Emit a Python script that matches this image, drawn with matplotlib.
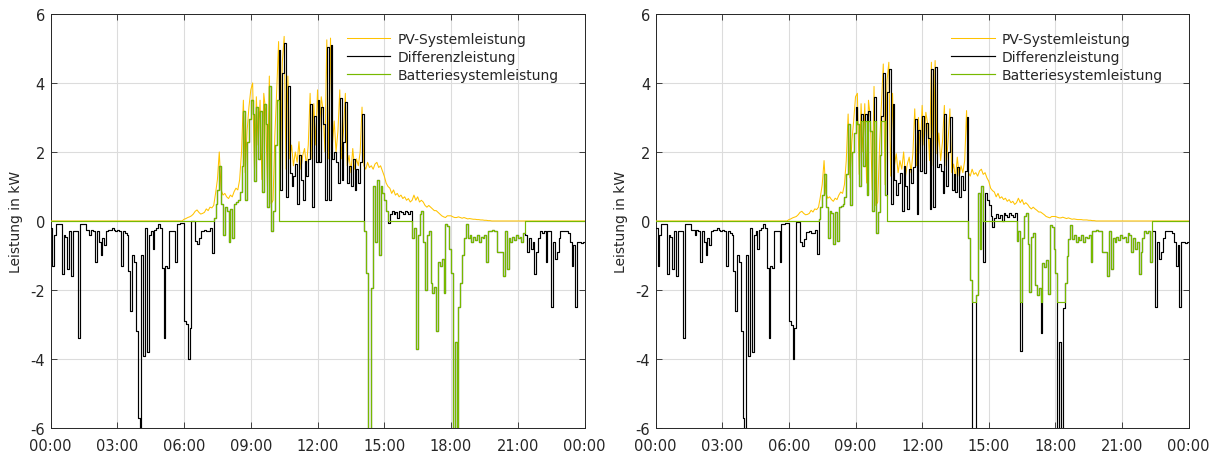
import numpy as np
import matplotlib
matplotlib.use("Agg")
import matplotlib.pyplot as plt

# ---------------- data (5-minute samples, kW) ----------------
sample_minutes = 5

# household load (positive consumption), 00:00 ... 24:00
load_00_06 = [
    0.20, 1.30, 0.40, 0.10, 0.10, 0.10, 1.55, 0.40, 0.45, 1.40, 0.30, 1.60,
    0.30, 0.30, 0.30, 3.40, 0.10, 0.10, 0.10, 0.25, 0.25, 0.40, 0.25, 0.30,
    1.20, 0.30, 0.60, 1.00, 0.50, 0.70, 0.30, 0.25, 0.25, 0.20, 0.25, 0.30,
    0.25, 0.30, 1.30, 0.30, 0.35, 0.40, 1.45, 2.60, 1.00, 1.20, 3.20, 5.70,
    6.50, 1.00, 3.90, 0.20, 3.80, 0.40, 0.30, 0.80, 0.25, 0.20, 0.10, 0.20,
    1.35, 3.40, 1.30, 1.35, 0.30, 0.30, 0.30, 1.20, 0.10, 0.10, 0.05, 0.05,
]
load_06_12 = [
    2.95, 3.07, 4.10, 3.22, 0.15, 0.20, 0.85, 1.00, 0.75, 0.50, 0.52, 0.50,
    0.65, 0.60, 0.60, 1.30, 0.35, 0.30, 0.30, 0.40, 0.40, 1.15, 0.40, 0.40,
    1.25, 0.40, 1.20, 0.35, 0.40, 0.30, 0.35, 0.40, 0.30, 0.80, 0.30, 0.35,
    0.30, 0.90, 0.35, 0.30, 0.40, 0.30, 0.35, 0.30, 0.40, 0.60, 0.30, 0.80,
    0.30, 0.30, 0.30, 0.25, 0.30, 0.30, 0.20, 0.80, 0.30, 0.40, 1.20, 0.30,
    0.35, 1.20, 0.40, 0.30, 1.30, 0.35, 0.30, 0.40, 0.30, 1.40, 0.35, 0.50,
]
load_12_18 = [
    0.30, 0.80, 0.30, 0.40, 1.40, 0.20, 1.20, 0.20, 0.40, 0.90, 0.30, 1.50,
    0.25, 0.60, 0.30, 0.25, 0.50, 0.30, 0.40, 0.30, 0.60, 0.30, 0.50, 0.30,
    0.20, 1.90, 3.00, 9.20, 8.55, 3.55, 0.50, 2.25, 0.50, 2.55, 0.60, 0.65,
    0.70, 0.80, 1.05, 0.75, 0.50, 0.70, 0.50, 0.70, 0.40, 0.50, 0.45, 0.40,
    0.35, 0.45, 0.25, 1.10, 0.95, 4.30, 1.10, 0.35, 0.30, 1.15, 2.45, 0.80,
    0.75, 2.20, 2.45, 2.20, 3.50, 1.45, 1.50, 1.25, 2.22, 0.20, 0.30, 0.95,
]
load_18_24 = [
    1.65, 6.62, 3.60, 6.60, 2.62, 1.90, 1.08, 0.60, 0.18, 0.56, 0.47, 0.66,
    0.50, 0.60, 0.44, 0.64, 0.48, 0.53, 0.42, 1.22, 0.31, 0.31, 0.25, 0.30,
    0.30, 0.90, 0.90, 0.90, 1.60, 0.30, 1.40, 0.50, 0.60, 0.45, 0.55, 0.40,
    0.50, 0.45, 0.60, 0.35, 0.40, 0.90, 0.50, 0.80, 0.60, 1.55, 0.90, 0.50,
    0.30, 0.35, 0.30, 1.20, 0.30, 0.30, 2.50, 0.60, 1.10, 0.90, 0.50, 0.30,
    0.30, 0.30, 0.30, 0.35, 0.60, 1.30, 0.70, 2.50, 0.60, 0.60, 0.65, 0.60,
    0.60,
]

# PV power, 06:00 ... 19:55 (zero outside)
pv_first_sample = "06:00"
pv_left_06_13 = [
    0.05, 0.07, 0.10, 0.12, 0.15, 0.20, 0.28, 0.32, 0.25, 0.20, 0.22, 0.25,
    0.35, 0.30, 0.40, 0.38, 0.45, 0.80, 1.20, 2.00, 0.90, 0.75, 0.80, 0.70,
    0.65, 0.75, 0.70, 0.85, 0.95, 0.90, 1.20, 2.00, 3.50, 1.40, 2.60, 3.30,
    3.80, 4.00, 1.50, 3.60, 2.20, 3.50, 1.20, 3.70, 3.20, 1.00, 4.20, 0.50,
    0.60, 2.50, 3.80, 5.20, 1.20, 4.60, 5.35, 1.50, 4.20, 1.80, 2.20, 1.60,
    2.00, 1.70, 2.30, 1.50, 1.90, 2.10, 1.60, 2.20, 3.70, 1.80, 3.40, 2.20,
    3.80, 2.50, 3.60, 3.20, 2.00, 5.25, 1.80, 5.30, 2.20, 2.90, 2.00, 2.60,
]
pv_left_13_20 = [
    3.80, 1.80, 2.60, 3.70, 1.60, 1.90, 1.40, 2.10, 1.50, 1.80, 1.60, 2.00,
    3.30, 1.60, 1.50, 1.70, 1.55, 1.60, 1.50, 1.65, 1.70, 1.55, 1.60, 1.45,
    1.30, 1.10, 1.00, 0.95, 0.80, 0.90, 0.75, 0.80, 0.70, 0.75, 0.65, 0.70,
    0.60, 0.65, 0.55, 0.60, 0.75, 0.60, 0.70, 0.55, 0.60, 0.55, 0.45, 0.40,
    0.45, 0.40, 0.35, 0.30, 0.30, 0.25, 0.20, 0.15, 0.12, 0.10, 0.15, 0.15,
    0.15, 0.12, 0.10, 0.10, 0.12, 0.10, 0.08, 0.10, 0.08, 0.06, 0.07, 0.06,
    0.05, 0.05, 0.04, 0.04, 0.03, 0.03, 0.02, 0.02, 0.01, 0.01, 0.00, 0.00,
]
pv_right_06_13 = [
    0.04, 0.06, 0.09, 0.11, 0.13, 0.18, 0.25, 0.28, 0.22, 0.18, 0.19, 0.22,
    0.31, 0.26, 0.35, 0.33, 0.40, 0.70, 1.05, 1.75, 0.80, 0.66, 0.70, 0.62,
    0.57, 0.66, 0.62, 0.75, 0.84, 0.80, 1.05, 1.75, 3.10, 1.25, 2.30, 2.90,
    3.60, 3.70, 1.35, 3.40, 2.00, 3.40, 1.10, 3.50, 3.00, 0.90, 3.90, 0.45,
    0.55, 2.20, 3.35, 4.55, 1.05, 4.05, 4.60, 1.30, 3.70, 1.60, 1.95, 1.40,
    1.75, 1.50, 2.00, 1.30, 1.65, 1.85, 1.40, 1.95, 3.25, 1.60, 3.00, 1.95,
    3.35, 2.20, 3.15, 2.80, 1.75, 4.60, 1.60, 4.65, 1.95, 2.55, 1.75, 2.30,
]
pv_right_13_20 = [
    3.35, 1.60, 2.30, 3.25, 1.40, 1.65, 1.25, 1.85, 1.30, 1.60, 1.40, 1.75,
    3.20, 1.40, 1.30, 1.50, 1.35, 1.40, 1.30, 1.45, 1.50, 1.35, 1.40, 1.25,
    1.15, 0.95, 0.88, 0.84, 0.70, 0.80, 0.66, 0.70, 0.62, 0.66, 0.57, 0.62,
    0.53, 0.57, 0.48, 0.53, 0.66, 0.53, 0.62, 0.48, 0.53, 0.48, 0.40, 0.35,
    0.40, 0.35, 0.31, 0.26, 0.26, 0.22, 0.18, 0.13, 0.11, 0.09, 0.13, 0.13,
    0.13, 0.11, 0.09, 0.09, 0.11, 0.09, 0.07, 0.09, 0.07, 0.05, 0.06, 0.05,
    0.04, 0.04, 0.04, 0.03, 0.03, 0.03, 0.02, 0.02, 0.01, 0.01, 0.00, 0.00,
]

# battery operation: active periods (hours) and power limits (kW)
battery_windows_left = [(7.33, 10.2), (14.07, 15.1), (16.2, 21.3)]
battery_windows_right = [(7.33, 10.37), (14.07, 14.68), (16.2, 22.31)]
battery_limits_left = (-20.0, 20.0)
battery_limits_right = (-2.35, 2.9)

x_tick_labels = ["00:00", "03:00", "06:00", "09:00", "12:00", "15:00",
                 "18:00", "21:00", "00:00"]
y_ticks = [-6, -4, -2, 0, 2, 4, 6]
legend_labels = ["PV-Systemleistung", "Differenzleistung", "Batteriesystemleistung"]
y_label = "Leistung in kW"

# ---------------- assemble series ----------------
load = np.array(load_00_06 + load_06_12 + load_12_18 + load_18_24)
hours = np.arange(len(load)) * sample_minutes / 60.0


def full_pv(part_a, part_b):
    pv = np.zeros_like(load)
    h, m = map(int, pv_first_sample.split(":"))
    i0 = (h * 60 + m) // sample_minutes
    vals = np.array(part_a + part_b)
    pv[i0:i0 + len(vals)] = vals
    return pv


def battery(diff, windows, limits):
    active = np.zeros(len(diff), dtype=bool)
    for a, b in windows:
        active |= (hours >= a) & (hours < b)
    return np.where(active, np.clip(diff, limits[0], limits[1]), 0.0)


pv_left = full_pv(pv_left_06_13, pv_left_13_20)
pv_right = full_pv(pv_right_06_13, pv_right_13_20)
diff_left = pv_left - load
diff_right = pv_right - load
bat_left = battery(diff_left, battery_windows_left, battery_limits_left)
bat_right = battery(diff_right, battery_windows_right, battery_limits_right)

# ---------------- plotting ----------------
plt.rcParams["font.family"] = ["DejaVu Sans"]
plt.rcParams["axes.unicode_minus"] = False

C_PV = "#FFC300"
C_DIFF = "#000000"
C_BAT = "#77B900"
TXT = "#262626"

fig = plt.figure(figsize=(12.18, 4.56), dpi=100)
ax_l = fig.add_axes([0.0415, 0.0592, 0.4384, 0.908])
ax_r = fig.add_axes([0.5383, 0.0592, 0.4376, 0.908])

for ax, pv, diff, bat in [(ax_l, pv_left, diff_left, bat_left),
                          (ax_r, pv_right, diff_right, bat_right)]:
    ax.plot(hours, pv, color=C_PV, lw=0.75, label=legend_labels[0], zorder=3)
    ax.plot(hours, diff, color=C_DIFF, lw=0.85, drawstyle="steps-post",
            label=legend_labels[1], zorder=4)
    ax.plot(hours, bat, color=C_BAT, lw=0.85, drawstyle="steps-post",
            label=legend_labels[2], zorder=5)
    ax.set_xlim(0, 24)
    ax.set_ylim(-6, 6)
    ax.set_xticks(np.arange(0, 25, 3))
    ax.set_xticklabels(x_tick_labels)
    ax.set_yticks(y_ticks)
    ax.set_yticklabels([str(v) for v in y_ticks])
    ax.grid(True, color="#DCDCDC", lw=0.8)
    ax.set_axisbelow(True)
    ax.tick_params(direction="in", length=4, width=0.6, top=True, right=True,
                   labelsize=10.5, colors=TXT, labelcolor=TXT)
    ax.tick_params(axis="x", pad=7.5)
    ax.tick_params(axis="y", pad=4)
    for sp in ax.spines.values():
        sp.set_color("#262626")
        sp.set_linewidth(0.7)
    ax.set_ylabel(y_label, fontsize=10, color=TXT, labelpad=5)
    leg = ax.legend(loc="upper right", frameon=False, fontsize=10,
                    handlelength=3.1, handletextpad=0.5, labelspacing=0.3,
                    borderaxespad=0.9, bbox_to_anchor=(0.985, 1.0))
    for t in leg.get_texts():
        t.set_color(TXT)

fig.savefig("out.png", dpi=100)
